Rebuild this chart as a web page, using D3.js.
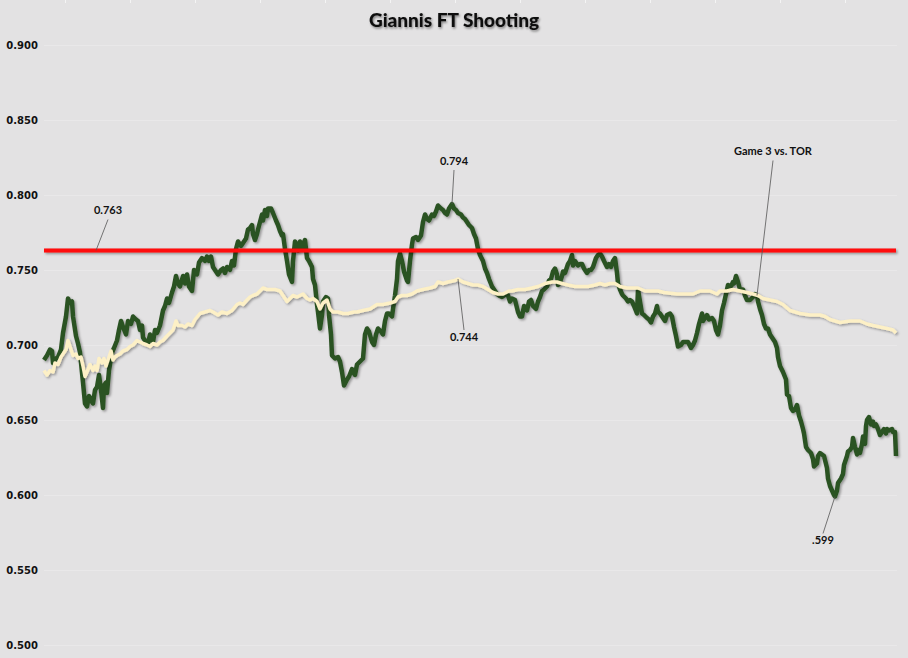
<!DOCTYPE html>
<html><head><meta charset="utf-8">
<script src="https://cdn.jsdelivr.net/npm/d3@7"></script>
<style>
html,body{margin:0;padding:0;background:#e3e2e3;}
svg{display:block;}
</style></head>
<body>
<script>
// ---------- DATA ----------
const title = "Giannis FT Shooting";
const yTicks = [0.5,0.55,0.6,0.65,0.7,0.75,0.8,0.85,0.9];
const benchmark = 0.763;
// attempt index / rolling FT% (dark green series)
const greenIdx = [0,3,6,8,9,12,14,17,19,22,24,26,28,29,32,34,36,39,41,43,45,48,49,51,53,55,57,59,60,62,63,65,68,70,73,75,77,79,82,84,87,89,92,94,96,98,99,102,104,106,109,111,113,116,119,121,123,125,128,130,132,134,136,139,141,143,145,148,150,153,155,158,161,163,165,167,169,172,174,177,179,181,183,186,188,190,192,194,197,199,202,204,206,208,209,211,213,214,216,218,219,221,223,224,227,229,232,234,236,238,239,241,243,245,248,249,251,253,254,256,258,259,261,263,265,268,269,271,273,274,276,278,279,282,284,285,287,288,291,294,296,298,300,303,305,308,310,311,313,316,319,321,323,325,328,330,332,334,337,339,341,343,345,348,349,351,353,354,356,358,360,363,364,366,368,369,372,374,377,379,381,383,385,388,390,392,394,397,399,401,403,405,408,410,412,414,417,419,421,423,425,428,430,432,434,436,439,441,443,445,448,450,453,455,458,460,463,464,466,468,471,474,476,478,480,483,485,487,489,492,494,496,498,500,503,505,507,509,511,513,514,516,518,519,521,523,524,526,528,529,531,534,536,538,540,543,545,547,549,552,554,556,558,560,563,565,567,569,571,573,574,576,578,579,582,584,586,588,590,593,594,596,598,600,603,605,607,609,611,613,614,616,619,621,623,626,628,630,632,634,637,639,642,644,647,649,651,653,655,658,659,661,663,665,668,670,672,674,676,678,680,682,684,687,689,690,692,694,696,699,701,703,706,709,711,713,714,716,718,720,722,724,726,729,731,733,734,736,739,742,743,745,747,749,751,753,755,757,759,760,762,764,767,769,770,773,774,776,778,780,783,784,786,788,790,791,793,794,797,799,800,803,804,806,808,809,811,813,814,816,818,819,821,822,823,825,827,829,830,832,834,836,838,840,842,843,845,848,849,851,852];
const greenPct = [0.690,0.693,0.697,0.696,0.688,0.691,0.692,0.697,0.708,0.719,0.731,0.728,0.729,0.719,0.706,0.701,0.695,0.675,0.661,0.659,0.666,0.662,0.661,0.670,0.672,0.680,0.670,0.658,0.673,0.675,0.668,0.683,0.695,0.698,0.703,0.710,0.716,0.712,0.707,0.716,0.714,0.719,0.717,0.716,0.710,0.713,0.705,0.702,0.701,0.707,0.702,0.710,0.708,0.713,0.723,0.726,0.731,0.728,0.735,0.739,0.746,0.741,0.739,0.746,0.741,0.747,0.739,0.736,0.750,0.747,0.755,0.758,0.756,0.759,0.756,0.759,0.752,0.749,0.747,0.750,0.751,0.748,0.752,0.750,0.756,0.753,0.764,0.769,0.766,0.768,0.771,0.777,0.778,0.780,0.774,0.770,0.774,0.777,0.782,0.787,0.783,0.790,0.786,0.791,0.791,0.788,0.783,0.780,0.776,0.773,0.774,0.764,0.756,0.747,0.742,0.756,0.769,0.766,0.763,0.769,0.764,0.767,0.770,0.758,0.756,0.752,0.744,0.740,0.727,0.722,0.711,0.720,0.729,0.732,0.731,0.720,0.707,0.693,0.691,0.692,0.689,0.682,0.673,0.677,0.679,0.684,0.681,0.680,0.687,0.689,0.691,0.707,0.711,0.709,0.702,0.700,0.707,0.711,0.709,0.707,0.716,0.721,0.721,0.719,0.724,0.733,0.744,0.756,0.761,0.756,0.749,0.743,0.742,0.756,0.767,0.771,0.772,0.770,0.773,0.782,0.787,0.784,0.783,0.787,0.786,0.789,0.793,0.791,0.790,0.788,0.787,0.791,0.794,0.791,0.790,0.788,0.787,0.785,0.784,0.782,0.780,0.778,0.774,0.771,0.764,0.760,0.756,0.751,0.748,0.744,0.739,0.737,0.734,0.733,0.732,0.733,0.734,0.733,0.729,0.731,0.730,0.722,0.719,0.719,0.726,0.723,0.729,0.730,0.726,0.724,0.729,0.732,0.736,0.737,0.739,0.743,0.744,0.749,0.751,0.747,0.740,0.742,0.746,0.749,0.748,0.752,0.754,0.756,0.760,0.753,0.756,0.753,0.754,0.754,0.751,0.748,0.750,0.750,0.752,0.758,0.760,0.761,0.759,0.756,0.752,0.754,0.752,0.756,0.758,0.748,0.741,0.737,0.734,0.733,0.731,0.729,0.730,0.729,0.726,0.721,0.737,0.729,0.721,0.720,0.718,0.717,0.715,0.719,0.721,0.726,0.722,0.721,0.718,0.716,0.720,0.721,0.719,0.712,0.706,0.699,0.700,0.702,0.702,0.702,0.698,0.700,0.703,0.708,0.714,0.721,0.716,0.718,0.720,0.717,0.718,0.716,0.710,0.707,0.713,0.723,0.728,0.734,0.740,0.739,0.742,0.741,0.746,0.742,0.737,0.737,0.733,0.730,0.730,0.732,0.734,0.733,0.729,0.724,0.720,0.714,0.711,0.711,0.707,0.704,0.702,0.698,0.692,0.686,0.682,0.677,0.667,0.666,0.658,0.656,0.657,0.660,0.653,0.649,0.644,0.641,0.632,0.630,0.628,0.624,0.619,0.621,0.626,0.628,0.627,0.626,0.618,0.611,0.606,0.603,0.600,0.599,0.603,0.608,0.611,0.614,0.620,0.626,0.629,0.630,0.632,0.638,0.632,0.627,0.630,0.628,0.634,0.639,0.634,0.646,0.650,0.652,0.647,0.649,0.646,0.647,0.644,0.640,0.642,0.644,0.641,0.644,0.643,0.644,0.642,0.642,0.626];
// attempt index / career FT% (cream series)
const creamIdx = [0,3,6,9,11,14,17,19,22,24,27,29,32,34,37,39,41,43,46,49,51,53,55,58,60,62,64,67,69,71,73,76,79,83,86,89,93,96,99,103,106,109,113,116,119,123,126,129,132,134,138,141,144,148,151,156,161,166,169,174,178,183,188,193,196,199,203,206,209,213,216,219,223,226,231,236,239,243,246,249,253,256,259,263,266,269,273,276,279,283,286,289,294,299,304,310,313,319,326,333,339,346,351,354,358,363,368,373,379,386,391,394,399,404,411,414,419,424,429,434,439,444,449,454,459,465,468,474,481,488,494,501,508,513,518,524,531,538,544,551,556,561,566,571,576,583,589,594,601,608,614,620,633,643,649,656,666,673,676,683,689,696,703,709,714,719,726,733,739,746,756,766,776,781,786,796,806,816,823,829,836,843,849,852];
const creamPct = [0.683,0.680,0.683,0.682,0.688,0.687,0.692,0.694,0.697,0.703,0.697,0.693,0.694,0.691,0.692,0.686,0.679,0.682,0.687,0.683,0.686,0.683,0.691,0.688,0.691,0.686,0.690,0.696,0.690,0.692,0.693,0.694,0.696,0.697,0.699,0.700,0.703,0.702,0.701,0.700,0.699,0.701,0.700,0.702,0.703,0.706,0.708,0.710,0.716,0.713,0.713,0.712,0.714,0.713,0.717,0.721,0.722,0.723,0.722,0.720,0.722,0.721,0.723,0.727,0.728,0.727,0.730,0.732,0.733,0.734,0.736,0.738,0.737,0.737,0.737,0.736,0.733,0.729,0.731,0.733,0.732,0.733,0.734,0.731,0.730,0.731,0.729,0.724,0.728,0.730,0.724,0.722,0.722,0.721,0.721,0.722,0.722,0.723,0.724,0.727,0.727,0.728,0.729,0.732,0.733,0.733,0.734,0.736,0.737,0.738,0.739,0.742,0.741,0.742,0.743,0.744,0.742,0.741,0.740,0.740,0.739,0.737,0.735,0.734,0.734,0.736,0.736,0.737,0.737,0.738,0.739,0.741,0.742,0.742,0.741,0.740,0.739,0.739,0.739,0.740,0.741,0.740,0.741,0.741,0.739,0.738,0.738,0.738,0.736,0.736,0.736,0.735,0.734,0.734,0.734,0.736,0.736,0.734,0.736,0.736,0.737,0.736,0.735,0.734,0.733,0.731,0.730,0.729,0.727,0.723,0.721,0.720,0.720,0.719,0.717,0.715,0.716,0.716,0.714,0.713,0.712,0.711,0.710,0.708];
// callouts: text, attempt index, value, label offset (px)
const callouts = [
  {text:"0.763", idx:52, v:0.763, dx:12, dy:-39},
  {text:"0.794", idx:408, v:0.794, dx:2, dy:-42},
  {text:"0.744", idx:414, v:0.744, dx:6, dy:59},
  {text:"Game 3 vs. TOR", idx:713, v:0.733, dx:16, dy:-143},
  {text:".599", idx:791, v:0.599, dx:-12, dy:45}
];

// ---------- CHART ----------
const W = 908, H = 658;
const svg = d3.select("body").append("svg").attr("width", W).attr("height", H);
svg.append("rect").attr("width", W).attr("height", H).attr("fill", "#e3e2e3");

const defs = svg.append("defs");
const f = defs.append("filter").attr("id","sh").attr("filterUnits","userSpaceOnUse")
  .attr("x",0).attr("y",0).attr("width",W).attr("height",H);
f.append("feDropShadow").attr("dx",1.5).attr("dy",1.5).attr("stdDeviation",1).attr("flood-color","#000").attr("flood-opacity",0.35);
const ft = defs.append("filter").attr("id","tsh").attr("filterUnits","userSpaceOnUse")
  .attr("x",0).attr("y",0).attr("width",W).attr("height",H);
ft.append("feDropShadow").attr("dx",1).attr("dy",1.5).attr("stdDeviation",0.8).attr("flood-color","#000").attr("flood-opacity",0.45);

const x = d3.scaleLinear().domain([0, 852]).range([44, 896]);
const y = d3.scaleLinear().domain([0.5, 0.9]).range([645, 45]);

// faint top tick marks
const topTicks = d3.range(1, 14);
svg.append("g").selectAll("line").data(topTicks).enter().append("line")
  .attr("x1", d => 0.5 + d * 65).attr("x2", d => 0.5 + d * 65)
  .attr("y1", 0).attr("y2", 3).attr("stroke", "#f4f4f4").attr("stroke-width", 1);

// gridlines
svg.append("g").selectAll("line").data(yTicks).enter().append("line")
  .attr("x1", 44).attr("x2", 897)
  .attr("y1", d => Math.round(y(d)) + 0.5).attr("y2", d => Math.round(y(d)) + 0.5)
  .attr("stroke", "#e9e8e9").attr("stroke-width", 1);

// y axis labels
const yAxis = d3.axisLeft(y).tickValues(yTicks).tickFormat(d3.format(".3f")).tickSize(0).tickPadding(0);
const ga = svg.append("g").attr("transform", "translate(38,0)").call(yAxis);
ga.select(".domain").remove();
ga.selectAll("text").attr("font-family", "'DejaVu Sans', Verdana, sans-serif")
  .attr("font-weight", "bold").attr("font-size", "10px").attr("fill", "#111");

// title
svg.append("text").attr("x", 454).attr("y", 27).attr("text-anchor", "middle")
  .attr("font-family", "Lato, 'Open Sans', sans-serif").attr("font-weight", "900")
  .attr("font-size", "19px").attr("fill", "#111").attr("filter", "url(#tsh)").text(title);

const line = d3.line().x(d => x(d[0])).y(d => y(d[1]));
const greenData = greenIdx.map((d, i) => [d, greenPct[i]]);
const creamData = creamIdx.map((d, i) => [d, creamPct[i]]);

svg.append("path").datum(greenData).attr("d", line).attr("fill", "none")
  .attr("stroke", "#2c5224").attr("stroke-width", 4.5).attr("stroke-linejoin", "round")
  .attr("filter", "url(#sh)");
svg.append("path").datum(creamData).attr("d", line).attr("fill", "none")
  .attr("stroke", "#fdf0c6").attr("stroke-width", 3.5).attr("stroke-linejoin", "round")
  .attr("filter", "url(#sh)");
svg.append("path").datum([[0, benchmark], [852, benchmark]]).attr("d", line).attr("fill", "none")
  .attr("stroke", "#ff0d0d").attr("stroke-width", 4).attr("filter", "url(#sh)");

// callouts
const cg = svg.append("g");
callouts.forEach(c => {
  const ax = x(c.idx), ay = y(c.v);
  const lx = ax + c.dx, ly = ay + c.dy;
  const endY = c.dy < 0 ? ly + 8 : ly - 8;
  cg.append("line").attr("x1", ax).attr("y1", ay).attr("x2", lx).attr("y2", endY)
    .attr("stroke", "#555").attr("stroke-width", 0.8);
  cg.append("text").attr("x", lx).attr("y", ly).attr("text-anchor", "middle")
    .attr("dominant-baseline", "middle")
    .attr("font-family", "Lato, 'Open Sans', sans-serif").attr("font-weight", "bold")
    .attr("font-size", "11px").attr("fill", "#111").text(c.text);
});
</script>
</body></html>
